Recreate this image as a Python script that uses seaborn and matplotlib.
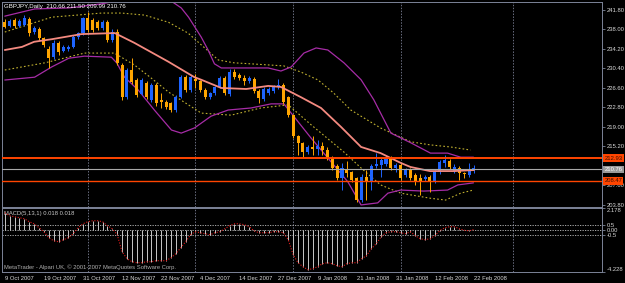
import numpy as np
import matplotlib
matplotlib.use("Agg")
import matplotlib.pyplot as plt
import seaborn as sns

# GBPJPY daily candles, 9 Oct 2007 .. 22 Feb 2008
opens = [239.5, 238.6, 239.8, 238.7, 238.9, 240.0, 237.5, 238.0, 236.3, 234.2,
         232.6, 235.3, 233.9, 234.2, 234.6, 236.6, 237.3, 240.2, 239.8, 239.5,
         238.2, 239.5, 236.0, 237.6, 231.1, 224.9, 230.1, 228.1, 225.5, 227.5,
         224.25, 227.2, 224.2, 223.9, 223.6, 222.3, 224.9, 228.8, 226.2, 228.3,
         227.9, 226.3, 224.9, 225.6, 226.8, 228.5, 225.4, 229.8, 229.1, 228.6,
         227.9, 228.4, 226.1, 224.5, 225.6, 226.0, 226.7, 227.2, 224.8, 221.3,
         217.2, 215.8, 214.1, 215.1, 214.7, 215.3, 214.6, 213.0, 211.4, 209.1,
         210.6, 210.2, 209.0, 204.8, 209.2, 208.3, 211.4, 211.6, 211.8, 212.9,
         211.0, 211.6, 209.6, 210.6, 209.6, 209.0, 208.8, 209.2, 208.4, 210.2,
         212.0, 212.4, 210.4, 211.0, 210.0, 209.6, 210.66]
highs = [240.0, 240.1, 240.2, 240.0, 240.8, 240.4, 238.6, 238.4, 236.6, 234.8,
         236.0, 235.7, 235.0, 235.0, 237.0, 237.6, 240.5, 241.5, 240.2, 239.9,
         239.9, 239.9, 238.0, 238.0, 231.4, 230.5, 232.4, 228.5, 228.5, 227.9,
         227.5, 227.5, 225.6, 224.2, 223.9, 225.2, 229.2, 229.2, 229.2, 229.3,
         228.2, 226.6, 225.9, 227.0, 228.9, 228.9, 230.2, 230.2, 229.5, 229.2,
         229.0, 228.7, 226.4, 226.7, 226.7, 227.1, 228.3, 227.5, 225.1, 221.6,
         217.5, 216.1, 215.5, 217.2, 216.4, 216.0, 215.0, 213.3, 211.7, 212.0,
         212.3, 210.5, 209.3, 209.9, 210.6, 211.8, 213.9, 213.1, 213.3, 213.3,
         212.0, 212.0, 211.0, 211.0, 210.0, 209.8, 209.7, 209.6, 210.6, 212.6,
         213.5, 212.8, 211.8, 211.3, 210.2, 212.0, 211.50]
lows = [238.2, 238.4, 238.3, 238.4, 238.6, 236.7, 237.1, 235.9, 234.6, 230.5,
        232.2, 233.0, 233.6, 233.9, 234.3, 236.2, 236.9, 237.5, 237.5, 237.9,
        237.9, 235.6, 235.6, 231.0, 224.3, 224.5, 227.4, 224.8, 225.2, 224.5,
        223.9, 223.0, 222.7, 222.5, 221.9, 221.9, 224.6, 225.9, 225.9, 226.6,
        225.9, 224.5, 224.5, 225.3, 226.5, 225.2, 225.0, 228.4, 228.1, 227.1,
        227.5, 225.7, 223.6, 224.1, 225.3, 225.7, 226.4, 223.5, 220.9, 216.8,
        213.5, 213.1, 213.7, 213.5, 213.5, 213.5, 212.5, 210.6, 208.7, 206.7,
        209.3, 208.3, 204.4, 204.4, 204.8, 206.7, 211.0, 209.3, 211.4, 210.6,
        210.2, 208.7, 209.2, 208.7, 207.7, 205.7, 208.4, 206.3, 208.0, 209.8,
        211.2, 210.9, 210.1, 208.6, 209.0, 209.2, 209.99]
closes = [238.55, 239.7, 238.6, 239.7, 240.2, 237.3, 238.2, 236.3, 235.0, 232.4,
          235.4, 233.7, 234.6, 234.6, 236.6, 237.3, 240.2, 237.9, 237.9, 238.2,
          239.5, 236.0, 237.6, 231.4, 224.9, 230.1, 227.8, 225.2, 228.15, 224.9,
          227.2, 223.6, 223.9, 222.9, 222.3, 224.9, 228.8, 226.2, 228.8, 228.0,
          226.2, 224.9, 225.6, 226.7, 228.5, 225.6, 229.8, 228.8, 228.5, 227.9,
          228.5, 226.0, 224.6, 226.4, 226.4, 226.8, 227.2, 223.9, 221.3, 217.2,
          215.8, 214.1, 215.1, 214.7, 215.3, 214.5, 212.9, 211.0, 209.1, 211.0,
          210.0, 208.7, 204.8, 209.2, 208.3, 211.4, 211.8, 212.6, 212.9, 211.0,
          211.6, 209.1, 210.6, 209.1, 208.4, 208.4, 209.2, 208.4, 210.2, 212.2,
          212.6, 211.2, 211.2, 210.0, 209.8, 210.6, 210.76]

# moving average (solid pink)
ma_bars = [0, 3.5, 6, 9.6, 15.7, 22.5, 26.5, 33.5, 38.8, 40.2, 44.3, 49.4, 53.9,
           56.5, 60.6, 64.7, 68.8, 72.9, 76.9, 81, 83, 87, 92, 96]
ma_vals = [234.0, 234.6, 235.6, 236.1, 237.1, 237.3, 235.4, 231.7, 228.7, 228.2,
           226.6, 226.4, 227.0, 226.8, 224.8, 222.7, 219.0, 215.1, 213.9, 212.0,
           211.2, 210.4, 210.4, 210.6]

# outer bands (magenta)
up_bars = [0, 6.1, 13.1, 19.8, 23.9, 30, 34.1, 36.1, 37.6, 40.2, 41.6, 42.9, 44.3,
           53.9, 56.5, 58.6, 61.2, 63.7, 66.1, 69.4, 72.9, 75.5, 79, 83.1, 87.1,
           90.6, 93.3, 95.9]
up_vals = [240.6, 242.0, 242.2, 243.0, 243.75, 243.9, 243.5, 242.2, 240.4, 236.5,
           234.0, 231.3, 230.5, 230.5, 229.9, 230.7, 233.4, 234.4, 234.0, 231.5,
           228.2, 224.3, 217.8, 215.9, 213.9, 213.9, 213.1, 213.1]
lo_bars = [0, 6.1, 9.6, 13.1, 16.3, 21.8, 22.9, 24.5, 27.3, 30.6, 34.1, 36.1,
           38.8, 42.2, 45.7, 50.4, 54.5, 57.1, 58.6, 62.7, 67.3, 70.2, 72.9, 76.3,
           78.4, 81, 85.7, 90.6, 92.7, 95.9]
lo_vals = [228.15, 228.7, 230.7, 232.4, 232.8, 232.6, 231.5, 228.7, 226.2, 222.3,
           218.4, 217.8, 218.8, 221.1, 222.3, 222.7, 223.5, 223.5, 221.7, 216.8,
           211.6, 208.3, 203.8, 204.2, 206.1, 206.7, 206.5, 206.7, 207.7, 208.1]

# envelope (yellow dotted)
env_up_bars = [0, 9.6, 19.8, 23.9, 28.6, 33.5, 37.5, 40.2, 43.7, 46.9, 50.4, 57.1,
               60.6, 64.1, 67.3, 70.8, 76.9, 81, 83.1, 87.1, 91.2, 95.3]
env_up_vals = [237.5, 240.4, 241.2, 241.2, 240.8, 239.4, 237.3, 235.0, 232.05,
               231.5, 231.3, 230.9, 229.7, 228.15, 225.6, 222.3, 218.8, 217.0,
               216.1, 215.5, 215.1, 214.5]
env_lo_bars = [0, 8.2, 16.3, 22.4, 26.5, 30, 33.5, 40.2, 46.3, 52.4, 58, 62.7,
               69.4, 72.9, 76.9, 81, 87.1, 90.2, 93.3, 95.9]
env_lo_vals = [230.1, 231.5, 233.4, 233.4, 231.1, 228.5, 225.8, 221.7, 221.3,
               222.7, 223.3, 219.4, 214.1, 211.0, 207.7, 206.1, 205.1, 204.75,
               206.1, 206.7]

# horizontal levels
level_hi = 212.93
level_bid = 210.76
level_lo = 208.47

# MACD(5,13,1) histogram
macd = [1.7, 1.4, 1.3, 1.2, 1.1, 0.8, 0.6, 0.2, -0.2, -0.8,
        -1.1, -1.2, -1.0, -0.8, -0.4, 0.2, 0.6, 0.8, 0.9, 0.9,
        0.8, 0.4, 0.1, -0.5, -2.2, -2.9, -3.2, -3.3, -3.3, -3.2,
        -3.2, -3.1, -3.1, -3.1, -2.8, -2.4, -1.8, -1.2, -0.5, -0.2,
        -0.3, -0.4, -0.5, -0.3, -0.2, 0.1, 0.4, 0.6, 0.6, 0.5,
        0.3, -0.1, -0.3, -0.3, -0.3, -0.2, -0.2, -0.3, -1.0, -2.5,
        -3.3, -3.7, -4.0, -3.9, -3.7, -3.4, -3.3, -3.4, -3.6, -3.7,
        -3.4, -3.3, -3.3, -2.9, -2.6, -1.9, -1.4, -0.7, -0.3, -0.2,
        -0.2, -0.3, -0.4, -0.2, -0.6, -0.9, -1.0, -0.9, -0.6, -0.1,
        0.2, 0.3, 0.3, 0.1, -0.05, -0.1, 0.018]

date_pos = [0, 8, 16, 24, 32, 40, 48, 56, 64, 72, 80, 88, 96]
date_labels = ["9 Oct 2007", "19 Oct 2007", "31 Oct 2007", "12 Nov 2007",
               "22 Nov 2007", "4 Dec 2007", "14 Dec 2007", "27 Dec 2007",
               "9 Jan 2008", "21 Jan 2008", "31 Jan 2008", "12 Feb 2008",
               "22 Feb 2008"]
month_starts = [17, 39, 59, 81, 104]
price_ticks = [241.80, 238.00, 234.20, 230.40, 226.60, 222.80, 219.00, 215.20, 207.60, 203.80]
macd_ticks = [2.178, 0.5, 0.0, -0.5, -4.228]
macd_tick_labels = ["2.178", "0.5", "0.00", "-0.5", "-4.228"]

sns.set_style("dark", {"axes.facecolor": "black", "figure.facecolor": "black"})
plt.rcParams['font.family'] = ['Liberation Sans', 'DejaVu Sans']

BULL = "#1E64FF"
BEAR = "#FFA500"
AXC = "#7C8498"
TXT = "#D8D8D8"
FS = 4.2

fig = plt.figure(figsize=(6.25, 2.83), dpi=100)
fig.patch.set_facecolor("black")
ax = fig.add_axes([0.003, 0.2686, 0.9602, 0.7244])
ax2 = fig.add_axes([0.003, 0.0389, 0.9602, 0.2262])

idx = np.arange(len(opens))
o = np.array(opens); c = np.array(closes)
colors = [BULL if cc >= oo else BEAR for oo, cc in zip(o, c)]

# grid (month starts)
for a in (ax, ax2):
    for m in month_starts:
        a.axvline(m, color="#6A6E80", lw=0.7, ls=(0, (1.5, 1.5)), zorder=0)

# bands and averages
sns.lineplot(x=env_up_bars, y=env_up_vals, ax=ax, color="#C0B030", lw=0.8,
             linestyle=(0, (1.5, 2)), sort=False, zorder=2)
sns.lineplot(x=env_lo_bars, y=env_lo_vals, ax=ax, color="#C0B030", lw=0.8,
             linestyle=(0, (1.5, 2)), sort=False, zorder=2)
sns.lineplot(x=up_bars, y=up_vals, ax=ax, color="#A62CA6", lw=0.9, sort=False, zorder=2)
sns.lineplot(x=lo_bars, y=lo_vals, ax=ax, color="#A62CA6", lw=0.9, sort=False, zorder=2)

# candles
ax.vlines(idx, lows, highs, colors=colors, lw=0.7, zorder=3)
body_h = np.maximum(np.abs(c - o), 0.25)
ax.bar(idx, body_h, bottom=np.minimum(o, c), width=0.62, color=colors, lw=0, zorder=4)

sns.lineplot(x=ma_bars, y=ma_vals, ax=ax, color="#F48A80", lw=1.3, sort=False, zorder=5)

# horizontal levels
ax.axhline(level_hi, color="#FF4500", lw=1.4, zorder=6)
ax.axhline(level_bid, color="#A8A8A8", lw=0.8, zorder=6)
ax.axhline(level_lo, color="#FF4500", lw=1.0, zorder=6)

ax.set_xlim(-0.6, 122.2)
ax.set_ylim(203.4, 243.36)
ax.set_xticks([])
ax.yaxis.tick_right()
ax.set_yticks(price_ticks)
ax.set_yticklabels([f"{p:.2f}" for p in price_ticks])
ax.tick_params(axis="y", colors=AXC, labelcolor=TXT, labelsize=FS, length=2,
               width=0.6, pad=1.2, direction="out")
ax.set_xlabel(""); ax.set_ylabel("")
for s in ax.spines.values():
    s.set_color(AXC); s.set_linewidth(0.7)
ax.spines["top"].set_linestyle((0, (3, 1)))

# price boxes on the axis
for val, bg, fg in [(level_hi, "#FF4500", "#3A1000"), (level_bid, "#9A9A9A", "white"),
                    (level_lo, "#FF4500", "#3A1000")]:
    ax.text(1.004, val, f"{val:.2f}", transform=ax.get_yaxis_transform(), fontsize=FS,
            color=fg, va="center", ha="left", clip_on=False, zorder=10,
            bbox=dict(facecolor=bg, edgecolor="none", pad=0.8))

ax.text(0.004, 0.988, "GBPJPY,Daily  210.66 211.50 209.99 210.76", transform=ax.transAxes,
        fontsize=4.4, color="white", va="top", ha="left")

# MACD panel
ax2.vlines(idx, 0, macd, colors="#C8C8C8", lw=0.7, zorder=3)
sns.lineplot(x=idx, y=macd, ax=ax2, color="#E01818", lw=0.8, linestyle=(0, (1, 1.5)),
             sort=False, zorder=4)
for lv in (0.5, 0.0, -0.5):
    ax2.axhline(lv, color="#C0C0C0", lw=0.6, ls=(0, (1.5, 1.5)), zorder=1)
ax2.set_xlim(-0.6, 122.2)
ax2.set_ylim(-4.228, 2.178)
ax2.yaxis.tick_right()
ax2.set_yticks(macd_ticks)
ax2.set_yticklabels(macd_tick_labels)
ax2.tick_params(axis="y", colors=AXC, labelcolor=TXT, labelsize=FS, length=2,
                width=0.6, pad=1.2)
labs = ax2.get_yticklabels()
labs[0].set_va("top"); labs[-1].set_va("bottom")
ax2.set_xticks(date_pos)
ax2.set_xticklabels(date_labels)
ax2.tick_params(axis="x", colors=AXC, labelcolor=TXT, labelsize=FS, length=2,
                width=0.6, pad=1.0)
for lab in ax2.get_xticklabels():
    lab.set_ha("left")
ax2.set_xlabel(""); ax2.set_ylabel("")
for s in ax2.spines.values():
    s.set_color(AXC); s.set_linewidth(0.7)

ax2.text(0.004, 0.95, "MACD(5,13,1) 0.018 0.018", transform=ax2.transAxes,
         fontsize=FS, color="#C8C8C8", va="top", ha="left")
ax2.text(0.004, 0.03, "MetaTrader - Alpari UK, \u00a9 2001-2007 MetaQuotes Software Corp.",
         transform=ax2.transAxes, fontsize=FS, color="#B0B0B0", va="bottom", ha="left")

fig.savefig("out.png", dpi=100, facecolor="black")
